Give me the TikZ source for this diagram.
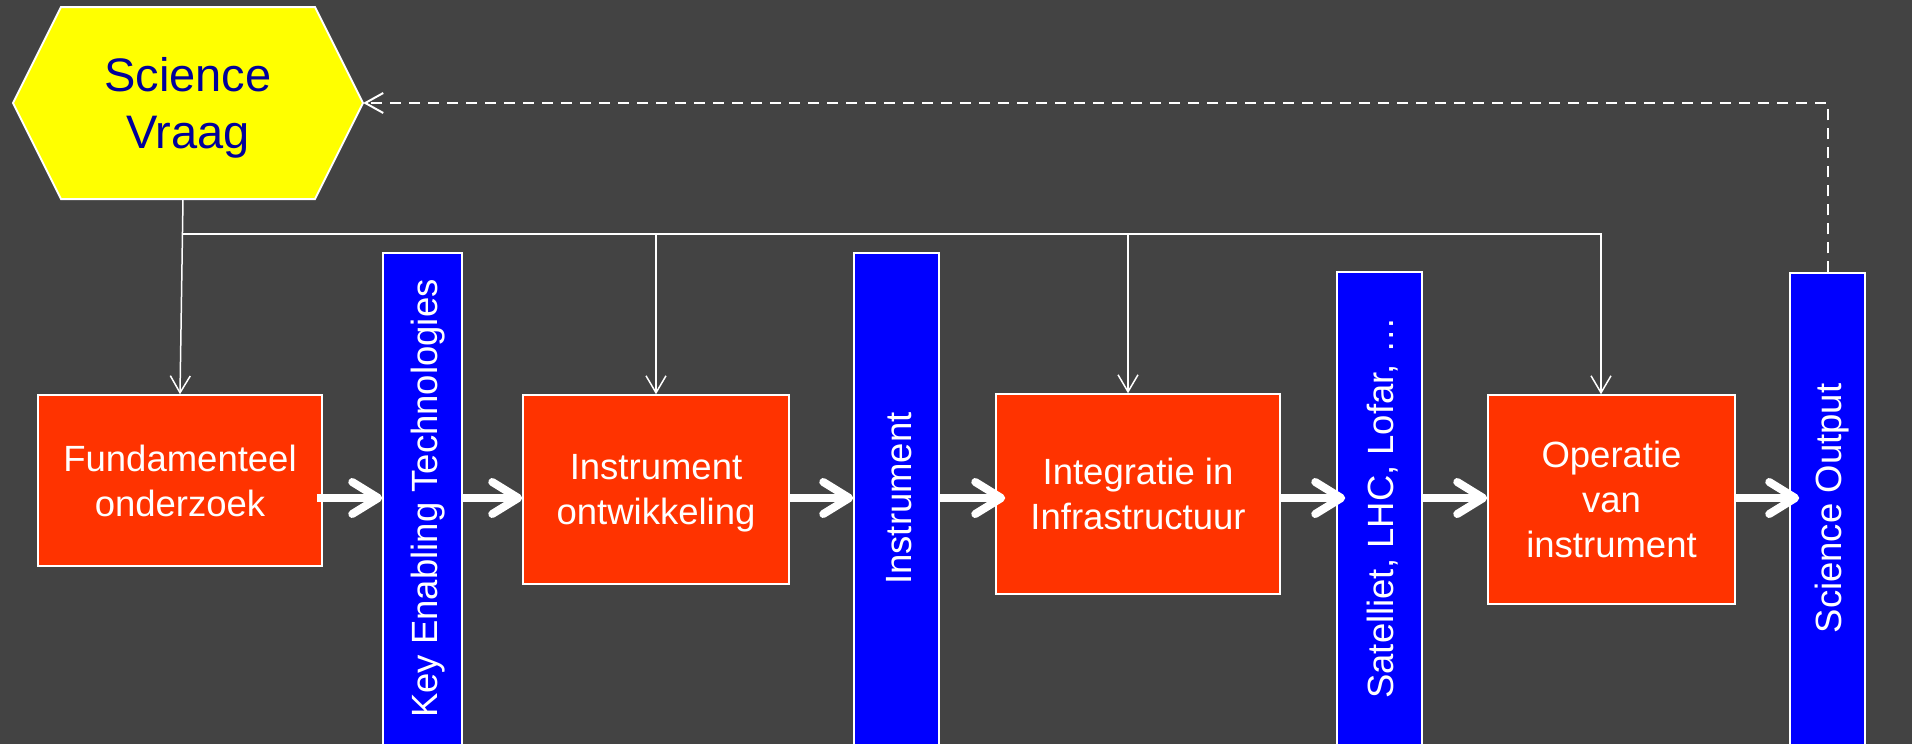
\documentclass[tikz,border=0pt]{standalone}
\usepackage{fontspec}
\setmainfont{Liberation Sans}
\usepackage{graphicx}
\usetikzlibrary{arrows.meta}
\definecolor{bgc}{HTML}{434343}
\definecolor{boxred}{HTML}{FF3300}
\definecolor{barblue}{HTML}{0000FF}
\definecolor{hexyellow}{HTML}{FFFF00}
\definecolor{navytext}{HTML}{000099}
\begin{document}
\begin{tikzpicture}[x=1pt,y=-1pt,
  redbox/.style={draw=white,line width=1.5pt,fill=boxred,text=white,align=center,
    font=\fontsize{36.5}{45}\selectfont,inner sep=0pt,text depth=0pt},
  barbox/.style={draw=white,line width=1.5pt,fill=barblue,inner sep=0pt},
  bartext/.style={text=white,font=\fontsize{36.5}{44}\selectfont,rotate=90,anchor=base,inner sep=0pt},
  thickarrow/.style={draw=white,line width=8pt,-{Straight Barb[length=26pt,width=32pt,round]}},
  thinarrow/.style={draw=white,line width=1.5pt,-{Straight Barb[length=17pt,width=20pt]}},
  dasharrow/.style={draw=white,line width=2pt,dash pattern=on 11pt off 8pt,-{Straight Barb[length=18pt,width=20pt]}},
  hexshape/.style={fill=hexyellow,draw=white,line width=2pt,line join=miter},
  hextext/.style={text=navytext,font=\fontsize{47}{57}\selectfont,align=center,
    minimum width=350pt,minimum height=192pt,inner sep=0pt,text depth=0pt}
]
\useasboundingbox (0,0) rectangle (1912,744);
\fill[bgc] (0,0) rectangle (1912,744);
\clip (0,0) rectangle (1912,744);

% hexagon
\filldraw[hexshape] (13,103) -- (61,7) -- (315,7) -- (363,103) -- (315,199) -- (61,199) -- cycle;
\node[hextext] (sv) at (188,103) {Science\\Vraag};

% red boxes
\node[redbox,minimum width=284pt,minimum height=171pt] (fund) at (180,480.5) {Fundamenteel\\onderzoek};
\node[redbox,minimum width=266pt,minimum height=189pt] (instr) at (656,489.5) {Instrument\\ontwikkeling};
\node[redbox,minimum width=284pt,minimum height=200pt] (integ) at (1138,494) {Integratie in\\Infrastructuur};
\node[redbox,minimum width=247pt,minimum height=209pt] (oper) at (1611.5,499.5) {Operatie\\van\\instrument};

% blue bars
\node[barbox,minimum width=79pt,minimum height=511pt] (ket) at (422.5,508.5) {};
\node[barbox,minimum width=85pt,minimum height=511pt] (instb) at (896.5,508.5) {};
\node[barbox,minimum width=85pt,minimum height=492pt] (sat) at (1379.5,518) {};
\node[barbox,minimum width=75pt,minimum height=491pt] (sout) at (1827.5,518.5) {};

\node[bartext] (ketl) at ([xshift=14.5pt,yshift=10pt]ket.center) {Key Enabling Technologies};
\node[bartext] (instbl) at ([xshift=14.5pt,yshift=10pt]instb.center) {Instrument};
\node[bartext] (satl) at ([xshift=14pt,yshift=10pt]sat.center) {Satelliet, LHC, Lofar, …};
\node[bartext] (soutl) at ([xshift=14pt,yshift=10pt]sout.center) {Science Output};

% thick flow arrows
\coordinate (lvl) at (0,498);
\coordinate (fe) at ([xshift=-6pt]fund.east);
\coordinate (integw) at ([xshift=10pt]integ.west);
\coordinate (satw) at ([xshift=9pt]sat.west);
\coordinate (soutw) at ([xshift=10pt]sout.west);
\draw[thickarrow] (fe |- lvl) -- (ket.west |- lvl);
\draw[thickarrow] (ket.east |- lvl) -- (instr.west |- lvl);
\draw[thickarrow] (instr.east |- lvl) -- (instb.west |- lvl);
\draw[thickarrow] (instb.east |- lvl) -- (integw |- lvl);
\draw[thickarrow] (integ.east |- lvl) -- (satw |- lvl);
\draw[thickarrow] (sat.east |- lvl) -- (oper.west |- lvl);
\draw[thickarrow] (oper.east |- lvl) -- (soutw |- lvl);

% thin connectors from Science Vraag
\coordinate (bus) at (0,234);
\coordinate (svb) at ([xshift=-5pt]sv.south);
\coordinate (intd) at ([xshift=-10pt]integ.north);
\coordinate (opd) at ([xshift=-10.5pt]oper.north);
\draw[thinarrow] (svb) -- (fund.north);
\draw[thinarrow] (svb |- bus) -| (opd);
\draw[thinarrow] (instr.north |- bus) -- (instr.north);
\draw[thinarrow] (intd |- bus) -- (intd);

% dashed feedback
\draw[dasharrow] (sout.north) |- (sv.east);
\end{tikzpicture}
\end{document}
